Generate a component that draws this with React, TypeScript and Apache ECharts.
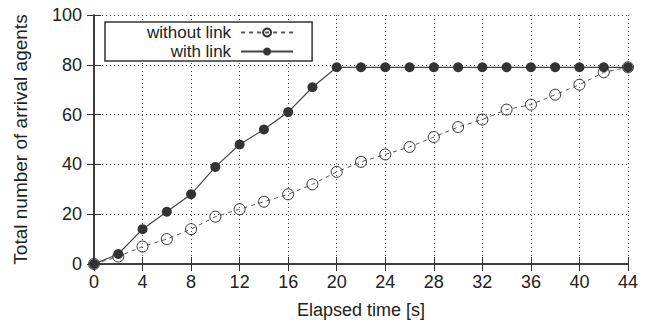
import React, { useEffect, useRef } from "react";
import * as echarts from "echarts";

const times = [0, 2, 4, 6, 8, 10, 12, 14, 16, 18, 20, 22, 24, 26, 28, 30, 32, 34, 36, 38, 40, 42, 44];
const withoutLink = [0, 3, 7, 10, 14, 19, 22, 25, 28, 32, 37, 41, 44, 47, 51, 55, 58, 62, 64, 68, 72, 77, 79];
const withLink = [0, 4, 14, 21, 28, 39, 48, 54, 61, 71, 79, 79, 79, 79, 79, 79, 79, 79, 79, 79, 79, 79, 79];
const xTitle = "Elapsed time [s]";
const yTitle = "Total number of arrival agents";

const FONT = "Liberation Sans, Arial, Helvetica, sans-serif";

export default function App() {
  const ref = useRef<HTMLDivElement>(null);
  useEffect(() => {
    const chart = echarts.init(ref.current!, null, { renderer: "svg" });
    const frame = { show: true, lineStyle: { color: "#333", width: 1.5 } };
    const grid = { show: true, lineStyle: { color: "#444", type: [1, 3] as any, width: 1 } };
    const tick = { show: true, inside: true, length: 7, lineStyle: { color: "#333" } };
    chart.setOption({
      animation: false,
      backgroundColor: "#fff",
      grid: { left: 94, right: 18, top: 15, bottom: 62 },
      legend: {
        left: 105,
        top: 22,
        orient: "vertical",
        align: "right",
        itemWidth: 52,
        itemHeight: 10,
        itemGap: 2,
        borderColor: "#333",
        borderWidth: 1.5,
        borderRadius: 0,
        backgroundColor: "#fff",
        padding: [2, 18, 1, 42],
        textStyle: {
          fontSize: 17,
          fontFamily: FONT,
          color: "#222",
          lineHeight: 15,
          padding: [0, 5, 0, 0],
        },
        data: ["without link", "with link"],
      },
      xAxis: [
        {
          type: "value",
          min: 0,
          max: 44,
          interval: 4,
          name: xTitle,
          nameLocation: "middle",
          nameGap: 37,
          nameTextStyle: { fontSize: 18, fontFamily: FONT, color: "#222" },
          axisLine: frame,
          axisTick: tick,
          axisLabel: { fontSize: 18, fontFamily: FONT, color: "#222", margin: 9 },
          splitLine: grid,
        },
        {
          type: "value",
          position: "top",
          min: 0,
          max: 44,
          interval: 4,
          axisLine: frame,
          axisTick: tick,
          axisLabel: { show: false },
          splitLine: { show: false },
        },
      ],
      yAxis: [
        {
          type: "value",
          min: 0,
          max: 100,
          interval: 20,
          name: yTitle,
          nameLocation: "middle",
          nameGap: 64,
          nameTextStyle: { fontSize: 19, fontFamily: FONT, color: "#222" },
          axisLine: frame,
          axisTick: tick,
          axisLabel: { fontSize: 18, fontFamily: FONT, color: "#222", margin: 12 },
          splitLine: grid,
        },
        {
          type: "value",
          position: "right",
          min: 0,
          max: 100,
          interval: 20,
          axisLine: frame,
          axisTick: tick,
          axisLabel: { show: false },
          splitLine: { show: false },
        },
      ],
      series: [
        {
          name: "without link",
          type: "line",
          data: times.map((t, i) => [t, withoutLink[i]]),
          symbol: "circle",
          symbolSize: 11,
          color: "#333",
          lineStyle: { color: "#555", width: 1, type: [4, 4] as any },
          itemStyle: { color: "rgba(255,255,255,0)", borderColor: "#333", borderWidth: 1 },
          z: 2,
        },
        {
          name: "with link",
          type: "line",
          data: times.map((t, i) => [t, withLink[i]]),
          symbol: "circle",
          symbolSize: 10,
          color: "#333",
          lineStyle: { color: "#444", width: 1.2 },
          itemStyle: { color: "#333" },
          z: 3,
        },
      ],
    });
    return () => chart.dispose();
  }, []);
  return <div ref={ref} style={{ width: 646, height: 326, position: "absolute", left: 0, top: 0 }} />;
}
